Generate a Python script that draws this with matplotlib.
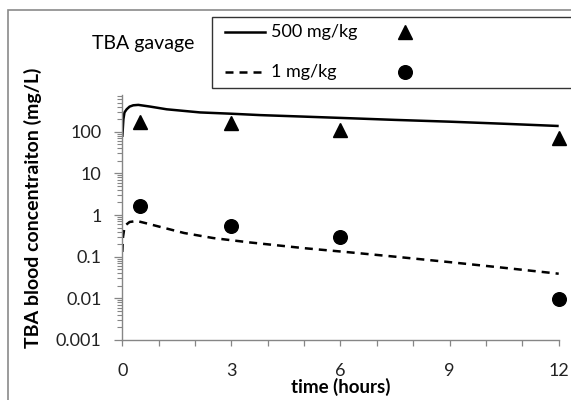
import numpy as np
import matplotlib
matplotlib.use("Agg")
import matplotlib.pyplot as plt
from matplotlib.patches import Rectangle
from matplotlib.lines import Line2D
from matplotlib.ticker import FixedLocator, NullFormatter

plt.rcParams['font.family'] = ['Lato', 'DejaVu Sans']

# model curves (time in hours, concentration in mg/L)
t_high = [0, 0.03, 0.06, 0.12, 0.2, 0.3, 0.44, 0.77, 1.22, 2.14, 3, 3.8, 5, 6.28, 7.5, 9, 10.5, 12]
c_high = [75, 200, 290, 345, 400, 430, 440, 400, 345, 290, 270, 250, 230, 210, 192, 174, 155, 137]

t_low = [0, 0.01, 0.02, 0.05, 0.1, 0.2, 0.4, 0.7, 1.0, 1.7, 2.5, 3.5, 5, 6.3, 7.5, 9, 10.5, 12]
c_low = [0.13, 0.2, 0.3, 0.45, 0.58, 0.68, 0.72, 0.62, 0.53, 0.37, 0.28, 0.22, 0.16, 0.126, 0.1, 0.074, 0.054, 0.039]

# measured data
t_obs = [0.5, 3, 6, 12]
obs_high = [170, 158, 110, 69]
obs_low = [1.65, 0.56, 0.30, 0.0096]

y_ticks = [0.001, 0.01, 0.1, 1, 10, 100]
y_labels = ["0.001", "0.01", "0.1", "1", "10", "100"]
x_ticks = [0, 3, 6, 9, 12]

W, H = 571, 400
fig = plt.figure(figsize=(W / 100, H / 100), dpi=100)


def fx(px):
    return px / W


def fy(py):
    return 1 - py / H


# outer chart frame (runs off the right and bottom edges)
fig.patches.append(Rectangle((fx(8), fy(420)), fx(600), 410 / H, transform=fig.transFigure,
                             fill=False, edgecolor="#8a8a8a", lw=1.2))

ax = fig.add_axes([fx(122.3), fy(340), fx(558.7 - 122.3), (340 - 95) / H])
ax.set_yscale("log")
ax.set_xlim(0, 12)
ax.set_ylim(0.001, 760)

ax.plot(t_high, c_high, color="black", lw=1.8, solid_capstyle="butt")
ax.plot(t_low, c_low, color="black", lw=1.8, linestyle=(0, (3.2, 2.4)))
ax.plot(t_obs, obs_high, linestyle="none", marker="^", ms=10.5, color="black", clip_on=False)
ax.plot(t_obs, obs_low, linestyle="none", marker="o", ms=9.8, color="black", clip_on=False)

for s in ["top", "right"]:
    ax.spines[s].set_visible(False)
for s in ["left", "bottom"]:
    ax.spines[s].set_color("#868686")
    ax.spines[s].set_linewidth(1.0)

ax.yaxis.set_major_locator(FixedLocator(y_ticks))
ax.set_yticklabels(y_labels)
minor_y = [m * 10.0 ** e for e in range(-3, 3) for m in range(2, 10)]
ax.yaxis.set_minor_locator(FixedLocator([v for v in minor_y if v <= 760]))
ax.yaxis.set_minor_formatter(NullFormatter())
ax.set_xticks(x_ticks)
ax.set_xticks(range(0, 13), minor=True)

ax.tick_params(axis="y", which="major", length=5.8, width=0.9, color="#868686",
               labelsize=13, pad=9, labelcolor="#222222")
ax.tick_params(axis="y", which="minor", length=3.6, width=0.8, color="#868686")
ax.tick_params(axis="x", which="both", length=4.3, width=0.9, color="#868686",
               labelsize=13, pad=12, labelcolor="#222222")

ax.set_xlabel("time (hours)", fontsize=13.5, fontweight="bold")
ax.xaxis.set_label_coords(0.5, -0.155)
ax.set_ylabel("TBA blood concentraiton (mg/L)", fontsize=14, fontweight="bold")
ax.yaxis.set_label_coords(-0.184, 0.54)

# title-like annotation
fig.text(fx(92), fy(43), "TBA gavage", fontsize=14, va="center", ha="left")

# legend box
fig.patches.append(Rectangle((fx(212), fy(88)), fx(400), 71 / H, transform=fig.transFigure,
                             facecolor="white", edgecolor="#333333", lw=1.0))
fig.lines.append(Line2D([fx(225), fx(265)], [fy(32), fy(32)], transform=fig.transFigure,
                        color="black", lw=1.8))
fig.lines.append(Line2D([fx(225), fx(265)], [fy(72), fy(72)], transform=fig.transFigure,
                        color="black", lw=1.8, linestyle=(0, (3.2, 2.4))))
fig.lines.append(Line2D([fx(405)], [fy(32)], transform=fig.transFigure,
                        marker="^", ms=10.5, color="black", linestyle="none"))
fig.lines.append(Line2D([fx(405)], [fy(72)], transform=fig.transFigure,
                        marker="o", ms=9.8, color="black", linestyle="none"))
fig.text(fx(271), fy(32), "500 mg/kg", fontsize=13, va="center", ha="left")
fig.text(fx(271), fy(72), "1 mg/kg", fontsize=13, va="center", ha="left")

fig.savefig("out.png", dpi=100)
